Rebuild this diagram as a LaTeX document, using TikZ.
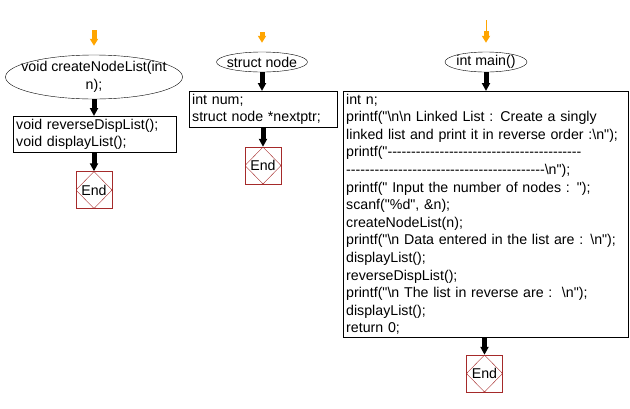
\documentclass[tikz,border=0pt]{standalone}
\usepackage{fontspec}
\usepackage{tikz}
\usetikzlibrary{arrows.meta,calc,positioning,shapes.geometric}
\newfontfamily\codefont{Liberation Sans}
\definecolor{StartOrange}{HTML}{FFA500}
\definecolor{EndRed}{HTML}{A52A2A}

\tikzset{
  fnshape/.style={draw,ellipse,inner xsep=-3pt,inner ysep=0pt,align=center},
  codebox/.style={draw,rectangle,anchor=north west,align=left,inner xsep=3pt,inner ysep=2.6pt},
  endbox/.style={draw=EndRed,rectangle,minimum width=36pt,minimum height=37pt,inner sep=0pt,
    path picture={\draw[EndRed,thin](path picture bounding box.north)--(path picture bounding box.east)
      --(path picture bounding box.south)--(path picture bounding box.west)--cycle;}},
  flowarr/.style={line width=5pt,-{Triangle[length=8pt,width=8pt]}},
  startarr/.style={StartOrange,line width=5pt,-{Triangle[length=7pt,width=8pt]},shorten >=9pt},
}

\begin{document}
\begin{tikzpicture}[x=1pt,y=-1pt,font=\codefont\fontsize{14.2}{17.6}\selectfont]
        \useasboundingbox(0,0)rectangle(630,408);
        % createNodeList
        \coordinate(s1)at(94,30);
        \node[fnshape,inner xsep=-12pt,inner ysep=-2pt,minimum width=177pt,minimum height=44pt](fn1)at(94,77){void createNodeList(int\\n);};
        \node[codebox,text width=157pt](box1)at(13,116){void reverseDispList();\\void displayList();};
        \node[endbox](end1)at(94,190){End};
        \draw[startarr](s1)--(fn1.north);
        \draw[flowarr](fn1.south)--(fn1.south|-box1.north);
        \draw[flowarr](box1.south-|end1.north)--(end1.north);
        % struct node
        \coordinate(s2)at(262,32);
        \node[fnshape,minimum width=91pt,minimum height=20pt](fn2)at(262,62){struct node};
        \node[codebox,text width=142pt](box2)at(189,91){int num;\\struct node *nextptr;};
        \node[endbox](end2)at(263,165.5){End};
        \draw[startarr](s2)--(fn2.north);
        \draw[flowarr](fn2.south)--(fn2.south|-box2.north);
        \draw[flowarr](box2.south-|end2.north)--(end2.north);
        % main
        \coordinate(s3a)at(486,20);
        \coordinate(s3b)at(486,31);
        \node[fnshape,minimum width=82pt,minimum height=20pt](fn3)at(486,62){int main()};
        \node[codebox,text width=279pt](box3)at(343,91){int n;\\
          printf("\textbackslash n\textbackslash n Linked List : Create a singly\\
          linked list and print it in reverse order :\textbackslash n");\\
          printf("-----------------------------------------\\
          ------------------------------------------\textbackslash n");\\
          printf(" Input the number of nodes : ");\\
          scanf("\%d", \&n);\\
          createNodeList(n);\\
          printf("\textbackslash n Data entered in the list are : \textbackslash n");\\
          displayList();\\
          reverseDispList();\\
          printf("\textbackslash n The list in reverse are :~~\textbackslash n");\\
          displayList();\\
          return 0;};
        \node[endbox](end3)at(484.5,373.5){End};
        \draw[StartOrange,thin](s3a)--(s3b);
        \draw[startarr](s3b)--(fn3.north);
        \draw[flowarr](fn3.south)--(fn3.south|-box3.north);
        \draw[flowarr](box3.south-|end3.north)--(end3.north);
      \end{tikzpicture}
\end{document}
